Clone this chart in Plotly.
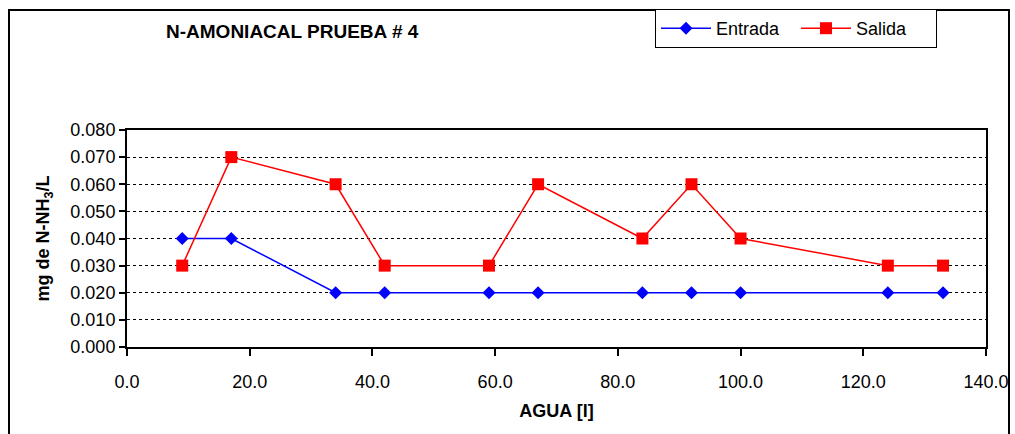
import plotly.graph_objects as go

agua = [9, 17, 34, 42, 59, 67, 84, 92, 100, 124, 133]
entrada = [0.04, 0.04, 0.02, 0.02, 0.02, 0.02, 0.02, 0.02, 0.02, 0.02, 0.02]
salida = [0.03, 0.07, 0.06, 0.03, 0.03, 0.06, 0.04, 0.06, 0.04, 0.03, 0.03]

W, H = 1015, 434
L, R, T, B = 127, 29, 130, 87
pw, ph = W - L - R, H - T - B

def px_x(p):
    return (p - L) / pw

def px_y(p):
    return (H - B - p) / ph

FONT = "Liberation Sans, Arial, sans-serif"

fig = go.Figure()
fig.add_trace(go.Scatter(x=agua, y=entrada, name="Entrada", mode="lines+markers",
                         line=dict(color="#0000FF", width=1.5),
                         marker=dict(symbol="diamond", size=10, color="#0000FF")))
fig.add_trace(go.Scatter(x=agua, y=salida, name="Salida", mode="lines+markers",
                         line=dict(color="#FF0000", width=1.5),
                         marker=dict(symbol="square", size=12, color="#FF0000")))

fig.update_layout(
    width=W, height=H,
    margin=dict(l=L, r=R, t=T, b=B, autoexpand=False),
    paper_bgcolor="white", plot_bgcolor="white",
    font=dict(family=FONT, size=18, color="black"),
    showlegend=True,
    legend=dict(orientation="h", x=px_x(655), y=px_y(9), xanchor="left", yanchor="top",
                bordercolor="black", borderwidth=1, bgcolor="white",
                font=dict(size=18), itemwidth=50, tracegroupgap=0,
                entrywidth=75, entrywidthmode="pixels"),
    xaxis=dict(range=[0, 140], dtick=20, tickformat=".1f", ticks="outside", ticklen=7,
               tickcolor="black", tickwidth=1.5, showline=True, linecolor="black", linewidth=2,
               mirror=True, showgrid=False, zeroline=False, ticklabelstandoff=10, automargin=False,
               title=dict(text="<b>AGUA [l]</b>", font=dict(size=18), standoff=14)),
    yaxis=dict(range=[0, 0.08], dtick=0.01, tickformat=".3f", ticks="outside", ticklen=6,
               tickcolor="black", tickwidth=1.5, showline=True, linecolor="black", linewidth=2,
               mirror=True, showgrid=True, gridcolor="black", gridwidth=1, griddash="dot",
               zeroline=False, automargin=False,
               title=dict(text="<b>mg de N-NH<sub>3</sub>/L</b>", font=dict(size=18), standoff=16)),
)

fig.add_annotation(text="<b>N-AMONIACAL PRUEBA # 4</b>", xref="paper", yref="paper",
                   x=px_x(292), y=px_y(31), xanchor="center", yanchor="middle",
                   showarrow=False, font=dict(size=19, family=FONT))

fig.add_shape(type="rect", xref="paper", yref="paper",
              x0=px_x(9), x1=px_x(1009), y0=px_y(445), y1=px_y(10),
              line=dict(color="black", width=2), fillcolor="rgba(0,0,0,0)", layer="below")

fig.write_html("out.html", config={"displayModeBar": False},
               post_script="document.body.style.margin='0';")
